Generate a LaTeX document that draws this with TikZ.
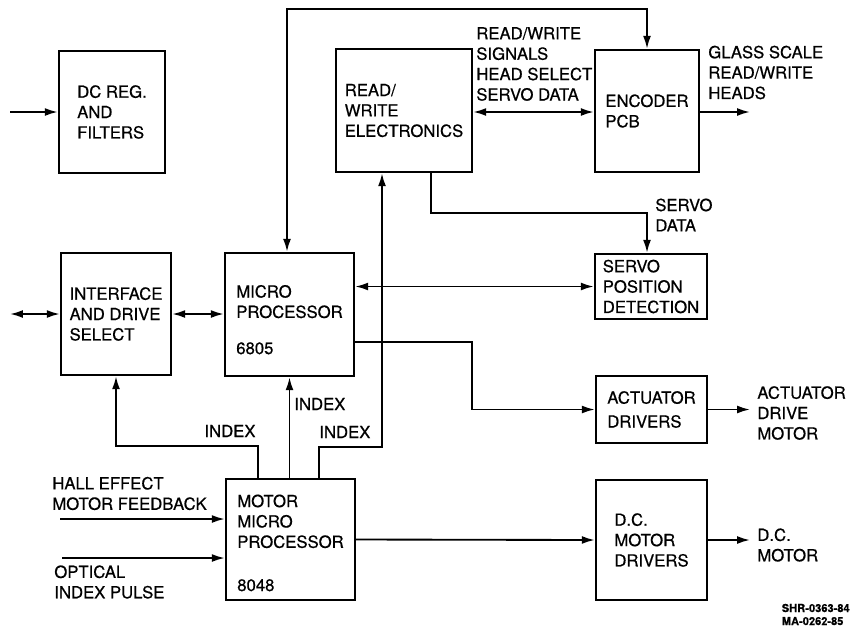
\documentclass[tikz,border=0pt]{standalone}
\usepackage{fontspec}
\setmainfont[FakeBold=0.6]{TeX Gyre Heros}
\usetikzlibrary{arrows.meta, positioning, calc}
\newcommand{\dfont}{\fontsize{9.5}{11.6}\selectfont}
\tikzset{
  box/.style={rectangle, draw=black, line width=1.4pt, inner sep=2pt,
              minimum width=#1, align=left, font=\dfont},
  box/.default=2.2cm,
  arrow/.style={-{Latex[length=2.6mm, width=1.6mm]}, line width=1.05pt},
  darrow/.style={{Latex[length=2.6mm, width=1.6mm]}-{Latex[length=2.6mm, width=1.6mm]}, line width=1.05pt},
  sig/.style={inner sep=0pt, align=left, font=\dfont},
}
\begin{document}
\begin{tikzpicture}[x=0.02cm, y=-0.02cm]
  \useasboundingbox (0,0) rectangle (851,626);

  % Top row
  \node[box=2.12cm, minimum height=2.44cm] (dcreg) at (112,112) {DC REG.\\AND\\FILTERS};
  \node[box=2.72cm, minimum height=2.46cm] (rw) at (404,110.5) {READ/\\WRITE\\ELECTRONICS};
  \node[box=2.08cm, minimum height=2.44cm] (enc) at (647,111) {ENCODER\\PCB};

  % Middle row
  \node[box=2.2cm, minimum height=2.44cm] (iface) at (116,314) {INTERFACE\\AND DRIVE\\SELECT};
  \node[box=2.58cm, minimum height=2.46cm] (micro) at (289.5,314.5) {\rule{0pt}{13pt}MICRO\\PROCESSOR\\[9pt]6805};
  \node[box=2.24cm, minimum height=1.3cm, inner sep=1pt] (servo) at (651,286.5) {SERVO\\POSITION\\DETECTION};
  \node[box=2.22cm, minimum height=1.34cm] (act) at (651.5,409.5) {ACTUATOR\\[2pt]DRIVERS};

  % Bottom row
  \node[box=2.58cm, minimum height=2.42cm] (motor) at (290.5,539.5) {\rule{0pt}{11pt}MOTOR\\MICRO\\PROCESSOR\\[13pt]8048};
  \node[box=2.22cm, minimum height=2.4cm] (dcm) at (651.5,540) {D.C.\\MOTOR\\DRIVERS};

  % free ends and bends
  \coordinate (dcin) at (10,112);
  \coordinate (ifin) at (10,314);
  \coordinate (hallin) at (60,519);
  \coordinate (optin) at (62,558);
  \coordinate (encout) at (750,112);
  \coordinate (actout) at (750,409.5);
  \coordinate (dcout) at (750,540);
  \coordinate (loop) at (450,9);
  \coordinate (sdata) at (540,213);
  \coordinate (actbend) at (472,380);
  \coordinate (idxl) at (200,446);
  \coordinate (idxr) at (350,447);

  % Connectors
  \draw[arrow] (dcin) -- (dcreg.west);
  \draw[darrow] ([yshift=-0.03cm]rw.east) -- ([yshift=-0.03cm]rw.east -| enc.west);
  \draw[arrow] (enc.east |- encout) -- (encout);
  \draw[darrow] ([xshift=-0.05cm]micro.north) |- (loop) -| (enc.north);
  \draw[arrow] ([xshift=0.54cm]rw.south) |- (sdata) -| ([xshift=-0.08cm]servo.north);
  \draw[darrow] (ifin) -- (iface.west);
  \draw[darrow] (iface.east) -- (micro.west |- iface.east);
  \draw[darrow] (micro.east |- servo.west) -- (servo.west);
  \draw[arrow] ([yshift=-0.55cm]micro.east) -| (actbend) |- (act.west);
  \draw[arrow] (act.east) -- (actout);
  \draw[arrow] ([xshift=-0.65cm]motor.north) |- (idxl) -| (iface.south);
  \draw[arrow] (motor.north -| micro.south) -- (micro.south);
  \draw[arrow] ([xshift=0.57cm]motor.north) |- (idxr) -| ([xshift=-0.44cm]rw.south);
  \draw[arrow] (hallin) -- (hallin -| motor.west);
  \draw[arrow] (optin) -- (optin -| motor.west);
  \draw[arrow] (motor.east) -- (dcm.west);
  \draw[arrow] (dcm.east) -- (dcout);

  % Signal labels
  \node[sig, anchor=west] (rwsig) at (476,64) {READ/WRITE\\SIGNALS\\HEAD SELECT\\SERVO DATA};
  \node[sig, anchor=west] (glass) at (708,72.5) {GLASS SCALE\\READ/WRITE\\HEADS};
  \node[sig, anchor=west] (sdlbl) at (655,215) {SERVO\\DATA};
  \node[sig] (idx1) at (230,431) {INDEX};
  \node[sig, anchor=west] (idx2) at (294,404) {INDEX};
  \node[sig, anchor=west] (idx3) at (319,432) {INDEX};
  \node[sig, anchor=west] (hall) at (52,493.5) {HALL EFFECT\\MOTOR FEEDBACK};
  \node[sig, anchor=west] (opt) at (54,582) {OPTICAL\\INDEX PULSE};
  \node[sig, anchor=west] (actm) at (757,413) {ACTUATOR\\DRIVE\\MOTOR};
  \node[sig, anchor=west] (dcmot) at (757,545) {D.C.\\MOTOR};
  \node[sig, anchor=east, font=\fontsize{6.3}{7.4}\selectfont\bfseries] (ref) at (850,614.5) {SHR-0363-84\\MA-0262-85};
\end{tikzpicture}
\end{document}
